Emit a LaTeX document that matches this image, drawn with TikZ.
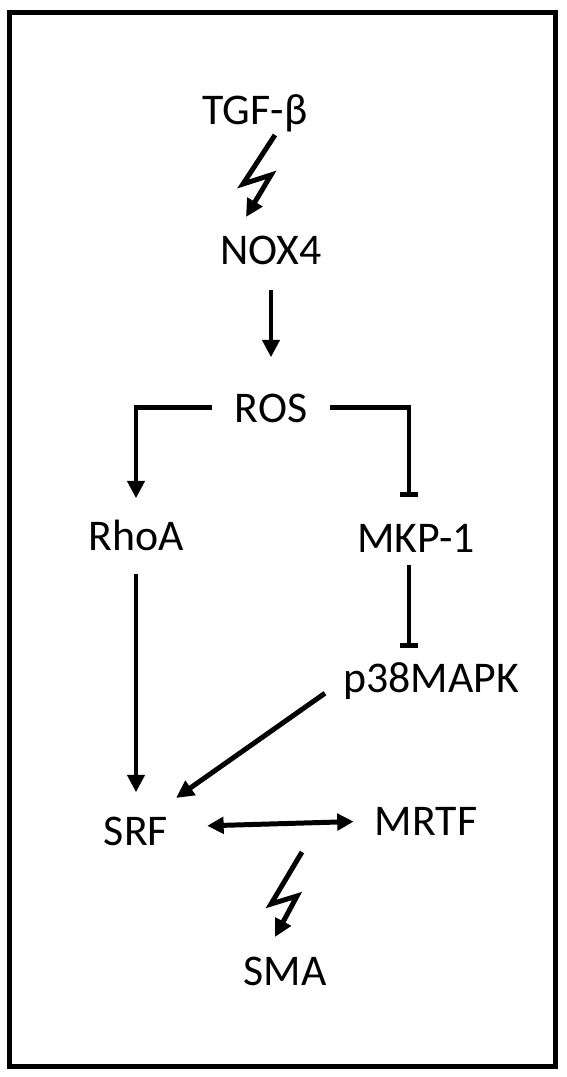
\documentclass[tikz,border=0pt]{standalone}
\usepackage{fontspec}
\setmainfont{Carlito}
\usetikzlibrary{arrows.meta}
\newcommand{\px}{0.03cm}
\newcommand{\genefont}{\fontsize{37.4pt}{44pt}\selectfont}
\newcommand{\lw}{4.25pt}

\begin{document}
\begin{tikzpicture}[x=\px,y=-\px,
    gene/.style={inner sep=0pt, anchor=base, font=\genefont},
    act/.style={line width=\lw, -{Triangle[length=15pt,width=14.5pt]}},
    inh/.style={line width=\lw, -{Bar[width=16pt]}},
    both/.style={line width=\lw, {Triangle[length=14pt,width=14pt]}-{Triangle[length=14pt,width=14pt]}}]
    %\draw[help lines] (0,0) grid[step=50] (566,1077);
        \useasboundingbox (0,0) rectangle (566,1077);
        \draw[line width=\lw] (9.5,12.5) rectangle (555.5,1066.5);

        \node[gene] (tgf) at (255,125) {TGF-β};
        \node[gene] (nox4) at (271,265) {NOX4};
        \node[gene] (ros) at (271,422) {ROS};
        \node[gene] (rhoa) at (136,550) {RhoA};
        \node[gene] (mkp) at (416,552) {MKP-1};
        \node[gene] (p38) at (431,692) {p38MAPK};
        \node[gene] (srf) at (136,845) {SRF};
        \node[gene] (mrtf) at (426,835) {MRTF};
        \node[gene] (sma) at (285,985) {SMA};

        % lightning arrows
        \draw[act] ([shift={(20,10)}]tgf.base) -- ++(-32,49) -- ++(28,-9) -- ++(-25,42);
        \draw[act] ([shift={(17,-133)}]sma.base) -- ++(-31,52) -- ++(26,-8) -- ++(-22,41);

        \draw[act, shorten <=24*\px, shorten >=36*\px] (nox4.south) -- (ros.north);
        \draw[act, shorten <=23*\px, shorten >=21*\px] (ros.west) -| (rhoa.north);
        \draw[inh, shorten <=23*\px, shorten >=27*\px] (ros.east) -| ([xshift=-7*\px]mkp.north);
        \draw[inh, shorten <=13*\px, shorten >=14*\px] ([xshift=-7*\px]mkp.south) -- ([xshift=-7*\px]mkp.south |- p38.north);
        \draw[act, shorten <=23*\px, shorten >=24*\px] (rhoa.south) -- (srf.north);
        \draw[act, shorten <=22*\px, shorten >=32*\px] (p38.west) -- ([xshift=14*\px]srf.north);
        \draw[both, shorten <=39*\px, shorten >=21*\px] ([yshift=4*\px]srf.east) -- (mrtf.west);
        
    \end{tikzpicture}
\end{document}
